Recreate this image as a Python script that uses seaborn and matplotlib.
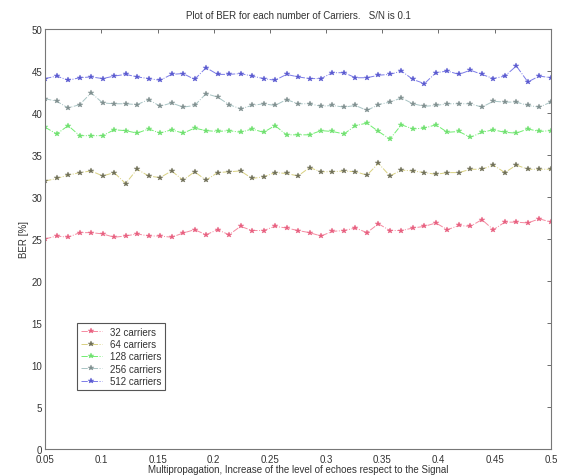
import numpy as np
import pandas as pd
import seaborn as sns
import matplotlib.pyplot as plt

# --- data ---
# sampling grid on the x axis (level of echoes)
echo_level = np.linspace(0.05, 0.5, 45)

ber_32 = [25.0, 25.35, 25.2, 25.75, 25.75, 25.6, 25.2, 25.35, 25.6, 25.35,
          25.35, 25.2, 25.7, 26.1, 25.5, 26.1, 25.5, 26.5, 26.0, 26.0,
          26.5, 26.3, 26.0, 25.75, 25.35, 25.9, 26.0, 26.3, 25.75, 26.8,
          26.0, 26.0, 26.3, 26.5, 26.9, 26.1, 26.6, 26.5, 27.3, 26.1,
          27.0, 27.0, 26.9, 27.4, 27.0]
ber_64 = [31.9, 32.2, 32.6, 32.9, 33.1, 32.5, 32.9, 31.6, 33.3, 32.5,
          32.3, 33.1, 32.0, 33.0, 32.0, 32.9, 33.0, 33.1, 32.2, 32.4,
          32.9, 32.8, 32.5, 33.5, 33.0, 33.0, 33.1, 33.0, 32.6, 34.0,
          32.5, 33.2, 33.1, 32.9, 32.7, 32.9, 32.9, 33.3, 33.3, 33.8,
          32.9, 33.8, 33.3, 33.3, 33.3]
ber_128 = [38.3, 37.5, 38.5, 37.3, 37.3, 37.3, 38.0, 37.9, 37.6, 38.1,
           37.6, 38.0, 37.6, 38.2, 37.9, 37.8, 37.9, 37.7, 38.1, 37.7,
           38.5, 37.4, 37.4, 37.4, 37.9, 37.8, 37.5, 38.5, 38.8, 37.8,
           36.9, 38.6, 38.1, 38.2, 38.6, 37.7, 37.8, 37.1, 37.7, 38.0,
           37.7, 37.6, 38.1, 37.8, 37.9]
ber_256 = [41.7, 41.4, 40.6, 41.0, 42.4, 41.2, 41.1, 41.1, 41.0, 41.6,
           40.8, 41.2, 40.7, 40.9, 42.3, 41.9, 41.0, 40.5, 40.9, 41.1,
           40.9, 41.6, 41.1, 41.1, 40.8, 40.9, 40.7, 40.9, 40.3, 41.0,
           41.3, 41.8, 41.1, 40.8, 40.9, 41.1, 41.1, 41.1, 40.7, 41.4,
           41.3, 41.3, 40.9, 40.7, 41.3]
ber_512 = [44.1, 44.4, 43.9, 44.2, 44.3, 44.1, 44.4, 44.6, 44.3, 44.1,
           43.9, 44.6, 44.7, 44.0, 45.4, 44.6, 44.6, 44.7, 44.4, 44.1,
           43.9, 44.6, 44.3, 44.1, 44.1, 44.8, 44.8, 44.2, 44.2, 44.5,
           44.6, 45.0, 44.0, 43.5, 44.8, 45.0, 44.6, 45.1, 44.6, 44.1,
           44.4, 45.6, 43.7, 44.4, 44.2]

labels = ['32 carriers', '64 carriers', '128 carriers', '256 carriers', '512 carriers']
series = [ber_32, ber_64, ber_128, ber_256, ber_512]
line_colors = ['#f58aa0', '#d8d080', '#70ee70', '#a8c4c4', '#7c7ce8']
marker_colors = ['#e86080', '#707058', '#70e070', '#809090', '#5a5ad0']

# --- style ---
sns.set_style('white')
plt.rcParams['font.family'] = ['Liberation Sans', 'DejaVu Sans']
plt.rcParams['font.size'] = 7

fig = plt.figure(figsize=(5.72, 4.77), dpi=100)
ax = fig.add_axes([0.079, 0.057, 0.884, 0.88])

for vals, lab, lc, mc in zip(series, labels, line_colors, marker_colors):
    sns.lineplot(x=echo_level, y=vals, ax=ax, label=lab, color=lc,
                 linestyle='-.', linewidth=0.7, marker='*', markersize=4,
                 markerfacecolor=mc, markeredgecolor=mc, markeredgewidth=0.3)

ax.set_xlim(0.05, 0.5)
ax.set_ylim(0, 50)
ax.set_xticks(np.arange(0.05, 0.501, 0.05))
ax.set_xticklabels(['0.05', '0.1', '0.15', '0.2', '0.25', '0.3', '0.35', '0.4', '0.45', '0.5'])
ax.set_yticks(np.arange(0, 51, 5))
ax.tick_params(direction='in', length=3, width=0.6, color='#555555',
               top=True, right=True, labelsize=7, labelcolor='#333333')
ax.tick_params(axis='x', pad=4)
ax.tick_params(axis='y', pad=2)
for sp in ax.spines.values():
    sp.set_color('#777777')
    sp.set_linewidth(0.8)

ax.set_title('Plot of BER for each number of Carriers.   S/N is 0.1', fontsize=7, color='#333333', pad=8)
ax.set_xlabel('Multipropagation, Increase of the level of echoes respect to the Signal', fontsize=7,
              color='#333333', labelpad=0)
ax.set_ylabel('BER [%]', fontsize=7, color='#333333', labelpad=2)

leg = ax.legend(loc='lower left', bbox_to_anchor=(0.053, 0.128), fancybox=False,
                edgecolor='#555555', fontsize=7, handlelength=2.2, borderpad=0.4,
                labelspacing=0.25, framealpha=1)
leg.get_frame().set_linewidth(0.8)
for t in leg.get_texts():
    t.set_color('#333333')

fig.savefig('out.png', dpi=100, facecolor='white')
